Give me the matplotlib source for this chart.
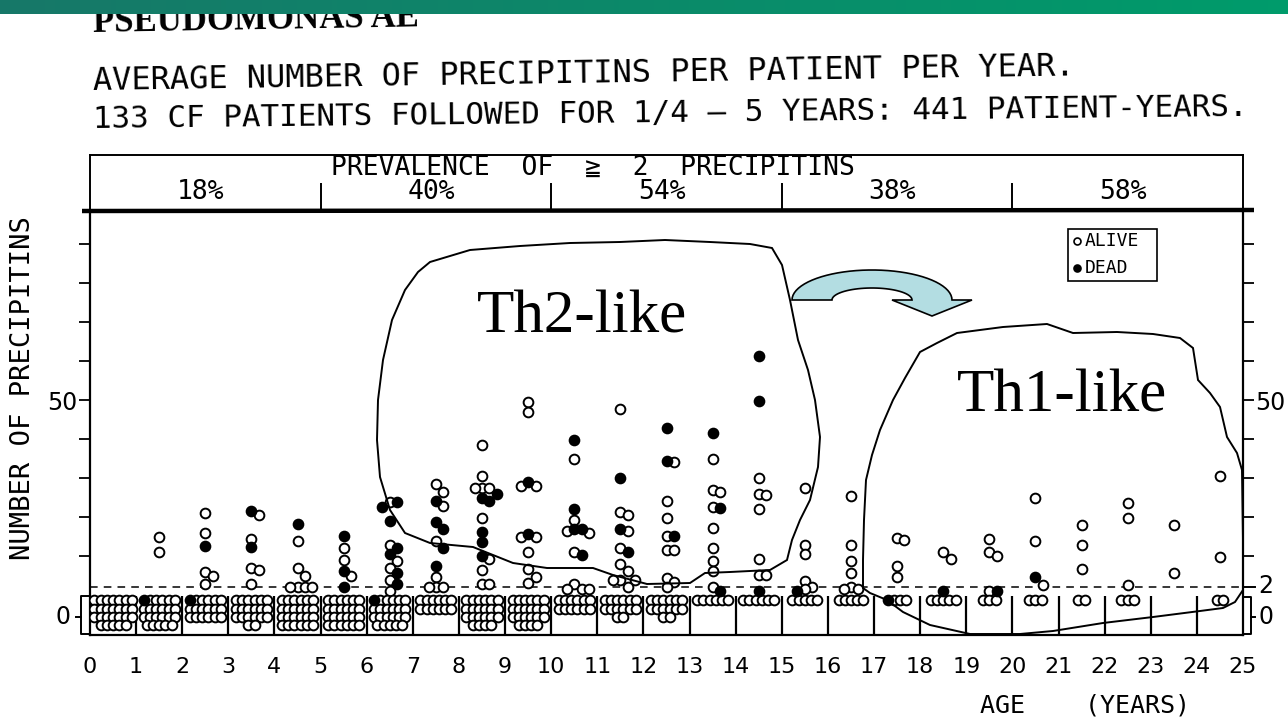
import numpy as np
import matplotlib
matplotlib.use("Agg")
import matplotlib.pyplot as plt
from matplotlib.patches import Polygon, Rectangle

W, H = 1288, 717

# ---- values ----
age_ticks = list(range(26))               # bin edges, one bin per year of age
prevalence_edges = [0, 5, 10, 15, 20, 25]
prevalence_labels = ['18%', '40%', '54%', '38%', '58%']

# number of precipitins for patients with at least one, per age bin
alive_values = [
    [],
    [15, 11],
    [21, 16, 6, 5, 3],
    [20.5, 14.5, 7, 6.5, 3],
    [14, 7, 5, 2, 2, 2, 2],
    [12, 9, 5],
    [24, 13, 8.7, 7, 4, 1],
    [28.5, 26.5, 23, 14, 4.8, 2, 2, 2],
    [38.5, 30.5, 27.5, 27.5, 27.5, 19.8, 9.2, 6.5, 3, 3],
    [49.5, 47, 28, 28, 15, 15, 11, 6.8, 4.8, 3.2],
    [35, 19.2, 16.5, 16, 11.2, 3, 1.5, 1.5, 1.5],
    [47.7, 21.3, 20.6, 16.4, 12, 8.1, 6.1, 4, 4, 4, 2],
    [34.2, 24.2, 19.8, 15.1, 11.5, 11.5, 4.5, 3.5, 2],
    [35, 27, 26.5, 22.6, 17.2, 12, 8.7, 6.1, 2],
    [30, 26, 25.7, 22, 9.4, 5.3, 5.3],
    [27.5, 12.8, 10.7, 3.7, 2, 1.5],
    [25.4, 12.8, 8.9, 5.8, 2, 1.5, 1.5],
    [14.6, 14.1, 7.4, 4.8],
    [11.2, 9.2],
    [14.3, 11, 10, 1],
    [24.9, 13.8, 2.7],
    [18, 13, 6.8],
    [23.6, 19.8, 2.7],
    [18, 5.8],
    [30.6, 9.7],
]
dead_values = [
    [], [], [12.5], [21.6, 12.3], [18.2], [15.1, 6.1, 2.2],
    [24, 22.6, 19, 12, 10.7, 5.6, 3],
    [24.2, 18.7, 16.9, 12, 7.6],
    [26, 25, 24.2, 16.2, 13.6, 10],
    [29.1, 15.6],
    [39.7, 22.1, 16.9, 16.9, 10.2],
    [30.1, 16.9, 11],
    [42.8, 34.4, 15.1],
    [41.7, 22.3, 1],
    [61.4, 49.8, 1],
    [1], [], [], [1.2], [1], [4.8], [], [], [], [],
]
# patients with no precipitins (stacked in the bottom box)
zero_alive = [26, 22, 17, 20, 24, 24, 22, 12, 22, 22, 12, 14, 14,
              6, 6, 5, 5, 3, 5, 3, 3, 2, 3, 0, 2]
zero_dead = [0, 1, 1, 0, 0, 0, 1, 0, 0, 0, 0, 0, 0,
             0, 0, 0, 0, 1, 0, 0, 0, 0, 0, 0, 0]

MONO = 'DejaVu Sans Mono'


def px_box(x0, y0, x1, y1):
    return [x0 / W, 1 - y1 / H, (x1 - x0) / W, (y1 - y0) / H]


def stack_points(values, kinds, centre):
    # spread points that would sit on top of each other sideways
    pts = sorted(zip(values, kinds), key=lambda p: -p[0])
    placed = []
    for v, k in pts:
        for dx in [0, 0.16, -0.16, 0.32, -0.32, 0.48, -0.48]:
            if all(abs(v - pv) > 2.1 or abs(dx - pdx) > 0.12 for pv, pdx, _ in placed):
                break
        placed.append((v, dx, k))
    return [(centre + dx, v, k) for v, dx, k in placed]


fig = plt.figure(figsize=(W / 100, H / 100), dpi=100)
fig.patch.set_facecolor('white')
plt.rcParams['font.family'] = ['DejaVu Sans']

ax = fig.add_axes(px_box(90, 210, 1243, 635))
ax.set_xlim(0, 25)
ax.set_ylim(-10.2, 98.8)

# points above zero
ax_pts = {'alive': ([], []), 'dead': ([], [])}
for i in range(25):
    vals = alive_values[i] + dead_values[i]
    kinds = ['alive'] * len(alive_values[i]) + ['dead'] * len(dead_values[i])
    for x, y, k in stack_points(vals, kinds, i + 0.5):
        ax_pts[k][0].append(x)
        ax_pts[k][1].append(y)

# zero cluster in the bottom box
for i in range(25):
    n = zero_alive[i] + zero_dead[i]
    cols = max(6, int(np.ceil(n / 4)))
    kinds = ['dead'] * zero_dead[i] + ['alive'] * zero_alive[i]
    for k in range(n):
        r, c = divmod(k, cols)
        in_row = min(cols, n - r * cols)
        x = i + 0.5 + (c - (in_row - 1) / 2) * 0.135
        y = -1.3 - r * 2.15
        ax_pts[kinds[k]][0].append(x)
        ax_pts[kinds[k]][1].append(y)

ax.plot(*ax_pts['alive'], 'o', ls='none', ms=7, mfc='white', mec='black', mew=1.4, zorder=3)
ax.plot(*ax_pts['dead'], 'o', ls='none', ms=7, mfc='black', mec='black', mew=1.4, zorder=3)

ax.axhline(2, color='black', lw=1.1, ls=(0, (5, 4)), zorder=2)
ax.vlines(age_ticks[1:-1], -10.2, -0.3, color='black', lw=1.6, zorder=2)

for s in ['left', 'right', 'bottom']:
    ax.spines[s].set_linewidth(1.6)
ax.spines['top'].set_visible(False)

yt = list(range(10, 100, 10))
ax.set_yticks(yt)
ax.set_yticklabels(['50' if t == 50 else '' for t in yt])
ax.tick_params(axis='y', direction='out', length=8, width=1.3, left=True, right=True,
               labelleft=True, labelright=True, labelsize=17, pad=1)
ax.set_xticks(age_ticks)
ax.set_xticklabels([str(a) for a in age_ticks])
ax.tick_params(axis='x', length=0, labelsize=16, pad=16)

# bracket marks for the zero box and the "2" on the right
kw = dict(color='black', lw=1.4, clip_on=False)
ax.plot([0, -0.2, -0.2, 0], [-0.1, -0.1, -10.0, -10.0], **kw)
ax.plot([-0.2, -0.3], [-5.6, -5.6], **kw)
ax.plot([25, 25.17, 25.17, 25], [-0.5, -0.5, -10.0, -10.0], **kw)
ax.plot([25.17, 25.27], [-5.6, -5.6], **kw)
ax.plot([25, 25.25], [2, 2], **kw)
ax.text(-0.58, -5.6, '0', ha='center', va='center', fontsize=17)
ax.text(25.5, -5.6, '0', ha='center', va='center', fontsize=17)
ax.text(25.5, 2.3, '2', ha='center', va='center', fontsize=17)

# prevalence band on top
band = fig.add_axes(px_box(90, 155, 1243, 210))
band.set_xlim(0, 25)
band.set_ylim(0, 1)
band.set_xticks([])
band.set_yticks([])
for s in ['left', 'right', 'top']:
    band.spines[s].set_linewidth(1.4)
band.spines['bottom'].set_visible(False)
band.vlines(prevalence_edges[1:-1], 0, 0.5, color='black', lw=1.4)
for j, lab in enumerate(prevalence_labels):
    band.text((prevalence_edges[j] + prevalence_edges[j + 1]) / 2 - 0.1, 0.32, lab,
              ha='center', va='center', fontsize=19, family=MONO)
band.text(10.9, 0.76, 'PREVALENCE  OF  ≧  2  PRECIPITINS', ha='center', va='center',
          fontsize=19, family=[MONO, 'DejaVu Sans'])

# ---- overlay in pixel coordinates: header, titles, freehand outlines ----
ov = fig.add_axes([0, 0, 1, 1], zorder=5)
ov.axis('off')

grad = np.linspace(0, 1, 256)[None, :, None]
c0 = np.array([0.09, 0.47, 0.41])
c1 = np.array([0.0, 0.61, 0.42])
ov.imshow(c0 + (c1 - c0) * grad, extent=[0, W, 14, 0], aspect='auto', zorder=10)
ov.text(93, 32, 'PSEUDOMONAS AE', family='Liberation Serif', weight='bold', fontsize=25,
        ha='left', va='baseline', rotation=1, zorder=1)

ov.text(93, 90, 'AVERAGE NUMBER OF PRECIPITINS PER PATIENT PER YEAR.', ha='left',
        va='baseline', fontsize=23, family=MONO, rotation=0.85, rotation_mode='anchor')
ov.text(93, 128, '133 CF PATIENTS FOLLOWED FOR 1/4 – 5 YEARS: 441 PATIENT-YEARS.',
        ha='left', va='baseline', fontsize=22.3, family=MONO, rotation=0.6,
        rotation_mode='anchor')

ov.text(23, 388, 'NUMBER OF PRECIPITINS', rotation=90, ha='center', va='center',
        fontsize=19.5, family=MONO)
ov.text(1085, 705, 'AGE    (YEARS)', ha='center', va='center', fontsize=18, family=MONO)

# thick line under the prevalence band
ov.plot([82, 1254], [211, 210], color='black', lw=3.2, solid_capstyle='butt')

# legend box
ov.add_patch(Rectangle((1068, 229), 89, 52, fill=False, ec='black', lw=1.2))
ov.plot([1077], [241], 'o', ms=5, mfc='white', mec='black', mew=1.2)
ov.plot([1077], [268], 'o', ms=5, mfc='black', mec='black', mew=1.2)
ov.text(1085, 241, 'ALIVE', ha='left', va='center', fontsize=13, family=MONO)
ov.text(1085, 268, 'DEAD', ha='left', va='center', fontsize=13, family=MONO)

th2_outline = [(430, 262), (470, 250), (520, 246), (570, 243), (620, 242), (665, 240),
               (710, 242), (750, 244), (772, 248), (782, 265), (790, 300), (798, 340),
               (808, 370), (815, 400), (820, 437), (818, 467), (810, 500), (800, 520),
               (792, 540), (787, 560), (770, 570), (730, 572), (705, 573), (690, 583),
               (647, 584), (613, 575), (593, 568), (547, 568), (513, 563), (473, 547),
               (430, 543), (405, 533), (390, 510), (380, 477), (377, 440), (378, 400),
               (383, 360), (392, 320), (405, 290), (418, 272)]
th1_outline = [(863, 588), (863, 560), (864, 520), (866, 480), (872, 455), (880, 430),
               (893, 400), (905, 378), (920, 352), (937, 343), (957, 333), (1003, 327),
               (1047, 324), (1073, 333), (1117, 332), (1153, 334), (1180, 338),
               (1193, 348), (1198, 380), (1210, 393), (1220, 407), (1227, 437),
               (1237, 453), (1242, 470), (1243, 540), (1243, 590), (1235, 602),
               (1223, 608), (1200, 611), (1153, 617), (1103, 623), (1053, 631),
               (1020, 634), (970, 634), (930, 625), (903, 612), (887, 600), (870, 593)]
ov.add_patch(Polygon(th2_outline, closed=True, fill=False, ec='black', lw=1.4))
ov.add_patch(Polygon(th1_outline, closed=True, fill=False, ec='black', lw=1.4))
ov.text(582, 318, 'Th2-like', family='Liberation Serif', fontsize=44, ha='center', va='center')
ov.text(1062, 397, 'Th1-like', family='Liberation Serif', fontsize=44, ha='center', va='center')

# curved arrow
t = np.linspace(np.pi, 0, 40)
outer = np.c_[872 + 80 * np.cos(t), 300 - 30 * np.sin(t)]
inner = np.c_[872 + 40 * np.cos(t[::-1]), 300 - 12 * np.sin(t[::-1])]
head = np.array([[972, 300], [932, 316], [892, 300]])
arrow = np.vstack([outer, head, inner])
ov.add_patch(Polygon(arrow, closed=True, fc='#b3dde2', ec='black', lw=1.2))

ov.set_xlim(0, W)
ov.set_ylim(H, 0)

fig.savefig('out.png', dpi=100)
